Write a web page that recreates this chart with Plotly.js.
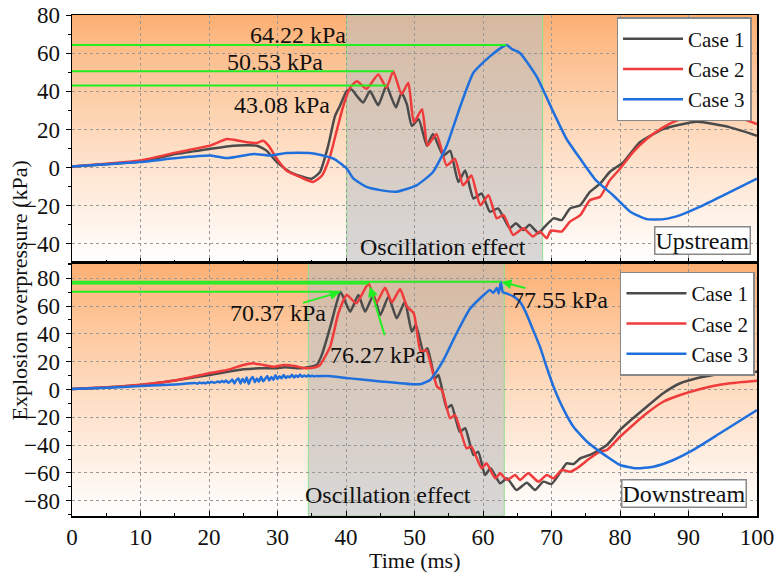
<!DOCTYPE html>
<html>
<head>
<meta charset="utf-8">
<script src="https://cdn.plot.ly/plotly-3.0.1.min.js"></script>
<style>html,body{margin:0;padding:0;background:#fff;}#chart{width:774px;height:575px;}</style>
</head>
<body>
<div id="chart"></div>
<script>
// ---------- DATA (time in ms, overpressure in kPa) ----------
const seriesNames = ["Case 1", "Case 2", "Case 3"];

const upCase1 = [[0,0.6],[5,1.8],[9.9,3.2],[15.3,7.2],[20.1,9.8],[23.6,11.5],[27,11.5],[28.4,8.9],[29.9,2.9],[31.8,-2.3],[33.8,-4.9],[35,-5.8],[36.2,-2.3],[37.4,11.5],[38.4,27.1],[39.1,32.3],[40.1,40.1],[40.8,41],[41.7,37],[42.5,34.1],[43.5,40.1],[44.7,32.7],[45.9,43.08],[46.6,37],[47.3,31.5],[48.1,39.3],[48.9,33],[49.6,21.9],[50.6,25.4],[51.8,11.5],[52.7,17.6],[54.2,6.3],[55.2,8.9],[56.4,-7.5],[57.4,-1.5],[58.6,-16.2],[59.8,-13.6],[61,-23.1],[62.2,-21.4],[63.9,-31.8],[64.8,-29.2],[65.9,-32.7],[66.8,-30],[68.1,-34.4],[68.8,-31.8],[70.3,-26.6],[71.5,-27.5],[72.7,-21.4],[74.2,-19.7],[75.6,-12.7],[77.1,-8.4],[78.5,-2.3],[80.5,2.9],[82.9,13.3],[86.3,20.2],[91.2,24],[96.1,21.1],[100,16.7]];

const upCase2 = [[0,0.6],[5,2],[9.9,3.7],[15.3,8],[20.1,11.5],[22.6,15],[23.6,14.6],[25.5,13.3],[27,12.9],[27.9,14.1],[28.7,11.5],[29.9,4.6],[31.3,-1.5],[33.3,-4.9],[35.2,-7.5],[36.5,-4.1],[37.7,6.3],[38.7,20.2],[39.6,32.3],[40.6,41.9],[41.6,45.3],[43,41.3],[44.7,48.8],[45.9,41.9],[46.9,50.53],[48.1,38.4],[49.1,44.5],[49.9,23.7],[51.1,30.6],[51.9,11.5],[53.2,17.6],[54.7,1.1],[55.9,4.6],[57.1,-9.3],[58.3,-4.1],[59.6,-19.7],[60.8,-14.5],[62,-26.6],[63,-24.9],[64.4,-35.3],[65.9,-31.8],[67.3,-36.1],[68.3,-33.5],[69.3,-37],[69.9,-33],[71.5,-33.5],[72.7,-28.3],[74.2,-24.9],[75.6,-17.1],[77.1,-15.3],[78.5,-6.7],[80,-0.6],[81.9,8.1],[83.9,15],[86.3,21.1],[88.8,25.4],[92.7,28.9],[96.1,28],[100,22.8]];

const upCase3 = [[0,0.6],[5,1.8],[9.9,2.9],[15.3,5],[20.1,6.3],[22.6,5],[26.5,7.2],[28.9,6.3],[31.3,7.7],[34.7,7.7],[36.5,6.5],[38.3,4.5],[40.1,-0.5],[41.1,-5.8],[43,-10.1],[45,-11.8],[47.4,-12.6],[50.3,-9.3],[52.7,-2.3],[54.7,11.5],[56.7,32.3],[58.6,49.7],[61,58.3],[63.4,64.22],[64.3,62],[65.4,60.1],[67.8,47.9],[70.3,28.9],[72.2,15],[74.2,4.6],[76.5,-6.7],[79,-14.5],[81.5,-23.1],[83.9,-27],[86.4,-27],[88.8,-24.9],[91.7,-20.5],[95.6,-13.6],[100,-5.8]];

const downCase1 = [[0,0.3],[5,1.5],[10,3.2],[15,6.5],[20,10.4],[25,14.5],[27.5,15.3],[30,15.3],[31,16],[33.5,15.3],[35.7,17.6],[36.4,24],[37.7,45],[38.5,60],[39.2,70.37],[40.6,56],[41.8,68],[42.8,56],[44,68],[45,53.6],[46.2,66.8],[47.4,51.2],[48.6,63.2],[49.6,41.6],[50.2,46.4],[51.3,27.2],[51.9,29.6],[53,8],[53.5,10.4],[54.7,-13.5],[55.4,-11.2],[56.6,-30.4],[57.4,-27.9],[58.6,-47.1],[59.3,-44.7],[60.3,-61.5],[61.1,-56.7],[62.5,-67.5],[63.5,-63.9],[64.9,-72.3],[66.4,-67],[67.6,-72.3],[68.8,-66.3],[70,-68],[71.2,-60.3],[72.2,-53.1],[73.2,-53.6],[74.2,-49.5],[75.6,-47.1],[78.1,-39.9],[80,-29.1],[81.9,-20.7],[83.9,-12.4],[86.3,-2.7],[88.8,4.5],[91.2,8.1],[93.6,10.4],[96.5,12.4],[100,12.8]];

const downCase2 = [[0,0.3],[5,1.6],[10,3.5],[15,6.5],[20,11.7],[23,14.5],[25,17.6],[26.5,18.8],[28,17.6],[29.5,16.4],[31,17.6],[32.5,16.9],[34,15.3],[35.5,16],[36.2,17.6],[37.7,31],[38.9,55],[40.1,68],[41.5,62],[43.3,76.27],[44.4,62],[45.7,73.2],[46.7,62.7],[47.9,72.3],[48.9,59.6],[49.9,54.8],[50.9,27.2],[51.7,28.4],[53.3,2],[54,-0.4],[55.2,-20.7],[55.9,-18.3],[57.6,-42.3],[58.3,-41.1],[59.8,-56.7],[60.5,-53.1],[61.8,-63.9],[62.5,-60.3],[63.5,-65.1],[64.7,-61.5],[65.4,-65.1],[66.6,-60.3],[68.1,-66.3],[69.3,-61.5],[70.3,-63.9],[71.5,-57.9],[72.7,-59.1],[73.7,-56.7],[75.6,-49.5],[77.1,-44.7],[78.1,-43.5],[80,-34],[81.9,-25.5],[83.9,-17.1],[86.3,-8.8],[88.8,-4],[91.2,-0.4],[93.6,2.5],[96.1,4.5],[100,6.3]];

const downCase3 = [[0,0.3],[5,1.2],[10,2.5],[15,3.6],[18,4.6],[18.3,4.2],[18.6,5.0],[18.9,4.5],[19.2,4.9],[19.5,4.4],[19.8,5.3],[20.1,4.8],[20.4,5.6],[20.7,4.9],[21,5.1],[21.3,5.8],[21.6,5.0],[21.9,6.2],[22.2,5.2],[22.5,6.5],[22.8,4.9],[23.1,5.8],[23.4,7.2],[23.7,4.4],[24,6.8],[24.3,8.0],[24.6,4.2],[24.9,7.8],[25.2,5.0],[25.5,8.6],[25.8,4.0],[26.1,7.5],[26.4,8.9],[26.7,5.2],[27,8.0],[27.3,5.6],[27.6,9.2],[27.9,6.0],[28.2,7.7],[28.5,9.8],[28.8,6.4],[29.1,9.0],[29.4,6.9],[29.7,10.2],[30,7.6],[30.3,9.5],[30.6,8.0],[30.9,10.4],[31.2,8.3],[31.5,9.6],[31.8,8.7],[32.1,10.6],[32.4,8.6],[32.7,10.0],[33,9.0],[33.3,10.8],[33.6,9.1],[33.9,10.1],[34.2,9.3],[34.5,10.2],[34.8,9.5],[35.1,9.9],[35.4,9.4],[35.7,9.8],[36,9.6],[37.5,9.7],[40.6,8],[45.4,5.6],[49.8,3.7],[51,4],[52.3,7],[54.2,21],[56.1,40],[58.1,58],[60.1,68],[61,71.6],[61.5,69.5],[62,73],[62.3,69],[62.6,77.55],[62.9,70],[63.5,69],[64.5,66.8],[65.4,63],[66.2,56],[67.3,43],[68.3,31],[69.3,16],[70.3,2],[71.8,-14.7],[73.2,-26.8],[75.2,-37.6],[78.1,-48.3],[80,-54.3],[82.4,-56.7],[84.9,-55.5],[87.8,-50.7],[90.7,-43.5],[94.6,-31.5],[100,-14.7]];

// peak marker lines: value, time of the peak
const upPeakValues = [64.22, 50.53, 43.08];
const upPeakTimes = [63.4, 46.9, 45.9];
const downPeakValues = [77.55, 76.27, 70.37];
const downPeakTimes = [62.6, 43.3, 39.2];
const upOscRange = [40.1, 68.7];
const downOscRange = [34.5, 63.1];

// ---------- STYLE ----------
const FONT = '"Liberation Serif", "Times New Roman", serif';
const colors = ["#4b4b4b", "#ef3b3b", "#1f6fdd"];
const GREEN = "#22ee22";

function mk(pairs, i, xa, ya, leg) {
  return {
    x: pairs.map(p => p[0]), y: pairs.map(p => p[1]),
    name: seriesNames[i], type: "scatter", mode: "lines",
    line: {color: colors[i], width: 2.5, shape: "spline", smoothing: 0.5},
    xaxis: xa, yaxis: ya, legend: leg, hoverinfo: "skip"
  };
}

const data = [
  mk(upCase1, 0, "x2", "y2", "legend"),
  mk(upCase2, 1, "x2", "y2", "legend"),
  mk(upCase3, 2, "x2", "y2", "legend"),
  mk(downCase1, 0, "x", "y", "legend2"),
  mk(downCase2, 1, "x", "y", "legend2"),
  mk(downCase3, 2, "x", "y", "legend2")
];

// gradient background (styling) built as stripes
const shapes = [];
const NSTRIPE = 60;
const gradTop = [252, 174, 112], gradBot = [255, 255, 255];
["", "2"].forEach(sfx => {
  for (let i = 0; i < NSTRIPE; i++) {
    const f = Math.pow((i + 0.5) / NSTRIPE, 0.85);
    const c = gradTop.map((v, k) => Math.round(v + (gradBot[k] - v) * f));
    shapes.push({
      type: "rect", layer: "below", xref: "x" + sfx + " domain", yref: "y" + sfx + " domain",
      x0: 0, x1: 1, y0: Math.max(0, 1 - (i + 1) / NSTRIPE - 0.003), y1: 1 - i / NSTRIPE,
      fillcolor: "rgb(" + c.join(",") + ")", line: {width: 0}
    });
  }
});
// oscillation shaded bands
[[upOscRange, "x2", "y2 domain"], [downOscRange, "x", "y domain"]].forEach(([r, xr, yr]) => {
  shapes.push({type: "rect", layer: "below", xref: xr, yref: yr, x0: r[0], x1: r[1], y0: 0, y1: 1,
    fillcolor: "rgba(190,190,190,0.6)", line: {color: "#8ee08e", width: 1}});
});
// peak level lines
upPeakValues.forEach((v, i) => shapes.push({type: "line", xref: "x2", yref: "y2",
  x0: 0, x1: upPeakTimes[i], y0: v, y1: v, line: {color: GREEN, width: 2}}));
downPeakValues.forEach((v, i) => shapes.push({type: "line", xref: "x", yref: "y",
  x0: 0, x1: downPeakTimes[i], y0: v, y1: v, line: {color: GREEN, width: 2}}));

const f21 = {family: FONT, size: 21, color: "#111"};
const f22 = {family: FONT, size: 22, color: "#111"};
const f23 = {family: FONT, size: 23, color: "#111"};
const f24 = {family: FONT, size: 24, color: "#111"};
const annotations = [
  {xref: "x2", yref: "y2", x: 33, y: 69.5, text: upPeakValues[0].toFixed(2) + " kPa", showarrow: false, font: f24},
  {xref: "x2", yref: "y2", x: 29.6, y: 55.4, text: upPeakValues[1].toFixed(2) + " kPa", showarrow: false, font: f24},
  {xref: "x2", yref: "y2", x: 30.6, y: 32.8, text: upPeakValues[2].toFixed(2) + " kPa", showarrow: false, font: f24},
  {xref: "x2", yref: "y2", x: 54.2, y: -41.4, text: "Oscillation effect", showarrow: false, font: f24},
  {xref: "x2", yref: "y2", x: 99.1, y: -45.8, xanchor: "right", yanchor: "bottom", text: "Upstream", showarrow: false,
    font: f24, bgcolor: "#fff", bordercolor: "#888", borderwidth: 1.5, borderpad: 0},
  {xref: "x", yref: "y", x: 30, y: 55, text: downPeakValues[2].toFixed(2) + " kPa", showarrow: false, font: f24},
  {xref: "x", yref: "y", x: 44.7, y: 24.8, text: downPeakValues[1].toFixed(2) + " kPa", showarrow: false, font: f24},
  {xref: "x", yref: "y", x: 71.2, y: 64.4, text: downPeakValues[0].toFixed(2) + " kPa", showarrow: false, font: f24},
  {xref: "x", yref: "y", x: 46.2, y: -75.9, text: "Oscillation effect", showarrow: false, font: f24},
  {xref: "x", yref: "y", x: 98.6, y: -85.5, xanchor: "right", yanchor: "bottom", text: "Downstream", showarrow: false,
    font: f24, bgcolor: "#fff", bordercolor: "#888", borderwidth: 1.5, borderpad: 0},
  // arrows
  {xref: "x", yref: "y", axref: "x", ayref: "y", x: 39.1, y: 70, ax: 33.5, ay: 62, text: "", showarrow: true,
    arrowcolor: GREEN, arrowwidth: 2, arrowhead: 2, arrowsize: 1},
  {xref: "x", yref: "y", axref: "x", ayref: "y", x: 43.5, y: 74, ax: 45.7, ay: 38, text: "", showarrow: true,
    arrowcolor: GREEN, arrowwidth: 2, arrowhead: 2, arrowsize: 1},
  {xref: "x", yref: "y", axref: "x", ayref: "y", x: 62.7, y: 77.5, ax: 66.4, ay: 72.8, text: "", showarrow: true,
    arrowcolor: GREEN, arrowwidth: 2, arrowhead: 2, arrowsize: 1},
  // axis titles
  {xref: "paper", yref: "paper", x: -0.076, y: 0.45, xanchor: "center", yanchor: "middle",
    text: "Explosion overpressure (kPa)", textangle: -90, showarrow: false, font: f22},
  {xref: "paper", yref: "paper", x: 0.5, y: -0.088, xanchor: "center", yanchor: "middle",
    text: "Time (ms)", showarrow: false, font: f22}
];

const xCommon = {
  range: [0, 100], dtick: 10, tick0: 0, ticks: "inside", ticklen: 5, tickcolor: "#000",
  minor: {dtick: 5, ticks: "inside", ticklen: 3, tickcolor: "#000"},
  showgrid: true, gridcolor: "#999", griddash: "dot", gridwidth: 1,
  showline: true, linecolor: "#000", linewidth: 1.5, mirror: true, zeroline: false,
  tickfont: f23, ticklabeloverflow: "allow"
};
const yCommon = {
  dtick: 20, ticks: "outside", ticklen: 5, tickcolor: "#000",
  minor: {dtick: 10, ticks: "outside", ticklen: 3, tickcolor: "#000"},
  showgrid: true, gridcolor: "#999", griddash: "dot", gridwidth: 1,
  showline: true, linecolor: "#000", linewidth: 1.5, mirror: true, zeroline: false,
  tickfont: f23, ticklabelstandoff: 1, ticklabeloverflow: "allow"
};

const legendCommon = {
  bgcolor: "#fff", bordercolor: "#888", borderwidth: 1.5, font: f21,
  xanchor: "right", yanchor: "top", xref: "paper", yref: "paper", itemwidth: 60, tracegroupgap: 0
};

const layout = {
  width: 774, height: 575,
  margin: {l: 72, r: 17, t: 15, b: 59},
  paper_bgcolor: "#fff", plot_bgcolor: "#fff",
  font: {family: FONT, size: 22, color: "#111"},
  xaxis: Object.assign({}, xCommon, {anchor: "y"}),
  yaxis: Object.assign({}, yCommon, {domain: [0, 0.505], range: [-91, 91], anchor: "x"}),
  xaxis2: Object.assign({}, xCommon, {anchor: "y2", matches: "x", showticklabels: false}),
  yaxis2: Object.assign({}, yCommon, {domain: [0.505, 1], range: [-50, 80], anchor: "x2"}),
  legend: Object.assign({}, legendCommon, {x: 0.992, y: 0.996}),
  legend2: Object.assign({}, legendCommon, {x: 0.997, y: 0.488}),
  shapes: shapes,
  annotations: annotations,
  showlegend: true
};

Plotly.newPlot("chart", data, layout, {staticPlot: true, displayModeBar: false});
</script>
</body>
</html>
